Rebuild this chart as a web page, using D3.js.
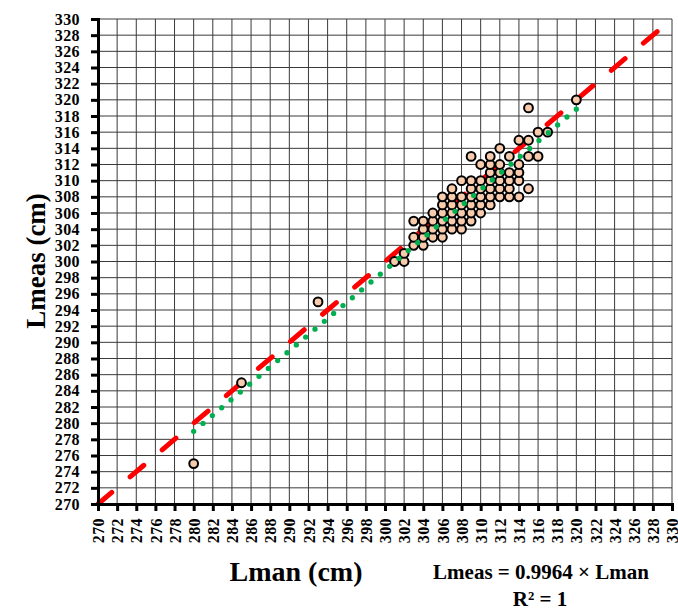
<!DOCTYPE html>
<html>
<head>
<meta charset="utf-8">
<script src="https://cdn.jsdelivr.net/npm/d3@7"></script>
<style>
  body { margin: 0; background: #fff; }
  text { font-family: "Palatino Linotype", "Book Antiqua", "Liberation Serif", serif; font-weight: bold; fill: #000; }
</style>
</head>
<body>
<script>
// manual length vs measured length (cm), one entry per animal
var lman  = [280, 285, 293, 301, 302, 302,
             303, 303, 303, 304, 304, 304, 304, 305, 305, 305, 305,
             306, 306, 306, 306, 306, 306, 307, 307, 307, 307, 307, 307,
             308, 308, 308, 308, 308, 308, 309, 309, 309, 309, 309, 309, 309,
             310, 310, 310, 310, 310, 310, 311, 311, 311, 311, 311, 311, 311,
             312, 312, 312, 312, 312, 312, 313, 313, 313, 313, 313,
             314, 314, 314, 314, 314, 315, 315, 315, 315, 316, 316, 317, 320];
var lmeas = [275, 285, 295, 300, 300, 301,
             302, 303, 305, 302, 303, 304, 305, 303, 304, 305, 306,
             303, 304, 305, 306, 307, 308, 304, 305, 306, 307, 308, 309,
             304, 305, 306, 307, 308, 310, 305, 306, 307, 308, 309, 310, 313,
             306, 307, 308, 309, 310, 312, 307, 308, 309, 310, 311, 312, 313,
             308, 309, 310, 311, 312, 314, 308, 309, 310, 311, 313,
             308, 310, 311, 312, 315, 309, 313, 315, 319, 313, 316, 316, 320];

// linear fit through origin and the 1:1 line
var fitSlope = 0.9964;
var fitFrom = 280, fitTo = 320;
var oneToOne = [270, 330];
var tickVals = d3.range(270, 331, 2);

var svg_width = 678, svg_height = 610;
var margin = {top: 19, right: 6, bottom: 106, left: 98},
    width = svg_width - margin.left - margin.right,
    height = svg_height - margin.top - margin.bottom;

var svg = d3.select("body").append("svg")
    .attr("width", svg_width)
    .attr("height", svg_height);
var g = svg.append("g").attr("transform", "translate(" + margin.left + "," + margin.top + ")");

var x = d3.scaleLinear().domain([270, 330]).range([0, width]);
var y = d3.scaleLinear().domain([270, 330]).range([height, 0]);

// grid every 2 cm
g.append("g").selectAll("line").data(tickVals).enter().append("line")
    .attr("x1", function(d) { return x(d); }).attr("x2", function(d) { return x(d); })
    .attr("y1", 0).attr("y2", height)
    .attr("stroke", "#3a3a3a").attr("stroke-width", 1);
g.append("g").selectAll("line").data(tickVals).enter().append("line")
    .attr("y1", function(d) { return y(d); }).attr("y2", function(d) { return y(d); })
    .attr("x1", 0).attr("x2", width)
    .attr("stroke", "#3a3a3a").attr("stroke-width", 1);

var line = d3.line()
    .x(function(d) { return x(d[0]); })
    .y(function(d) { return y(d[1]); });

// 1:1 line (red dashes), under the points
g.append("path")
    .datum(oneToOne.map(function(v) { return [v, v]; }))
    .attr("d", line)
    .attr("fill", "none")
    .attr("stroke", "#ff0000")
    .attr("stroke-width", 5)
    .attr("stroke-linecap", "round")
    .attr("stroke-dasharray", "18,24");

// points
g.append("g").selectAll("circle").data(lman).enter().append("circle")
    .attr("cx", function(d) { return x(d); })
    .attr("cy", function(d, i) { return y(lmeas[i]); })
    .attr("r", 4.4)
    .attr("fill", "#f8cbad")
    .attr("stroke", "#000")
    .attr("stroke-width", 2);

// trend line (green dots), on top
g.append("path")
    .datum([[fitFrom, fitSlope * fitFrom], [fitTo, fitSlope * fitTo]])
    .attr("d", line)
    .attr("fill", "none")
    .attr("stroke", "#00b050")
    .attr("stroke-width", 5.3)
    .attr("stroke-linecap", "round")
    .attr("stroke-dasharray", "0,12.2");

// axes
var xAxis = g.append("g")
    .attr("transform", "translate(0," + height + ")")
    .call(d3.axisBottom(x).tickValues(tickVals).tickSize(7).tickPadding(7));
xAxis.selectAll("text")
    .attr("transform", "rotate(-90)")
    .attr("x", -14).attr("y", 0).attr("dy", "0.35em")
    .style("text-anchor", "end");

var yAxis = g.append("g")
    .call(d3.axisLeft(y).tickValues(tickVals).tickSize(7).tickPadding(11));

g.selectAll(".domain").attr("stroke", "#000").attr("stroke-width", 3);
g.selectAll(".tick line").attr("stroke", "#000").attr("stroke-width", 3);
g.selectAll(".tick text").style("font-size", "16px")
    .style("letter-spacing", "0.4px")
    .style("font-family", "'Liberation Serif', serif").style("font-weight", "bold");

// titles
svg.append("text")
    .attr("transform", "translate(36," + 261 + ") rotate(-90)")
    .attr("text-anchor", "middle")
    .attr("dy", "0.35em")
    .style("font-size", "27px")
    .text("Lmeas (cm)");

svg.append("text")
    .attr("x", 296).attr("y", 581)
    .attr("text-anchor", "middle")
    .style("font-size", "28px")
    .text("Lman (cm)");

svg.append("text")
    .attr("x", 541).attr("y", 579)
    .attr("text-anchor", "middle")
    .style("font-size", "21px")
    .text("Lmeas = " + fitSlope + " \u00d7 Lman");

svg.append("text")
    .attr("x", 540).attr("y", 606)
    .attr("text-anchor", "middle")
    .style("font-size", "21px")
    .text("R\u00b2 = 1");
</script>
</body>
</html>
